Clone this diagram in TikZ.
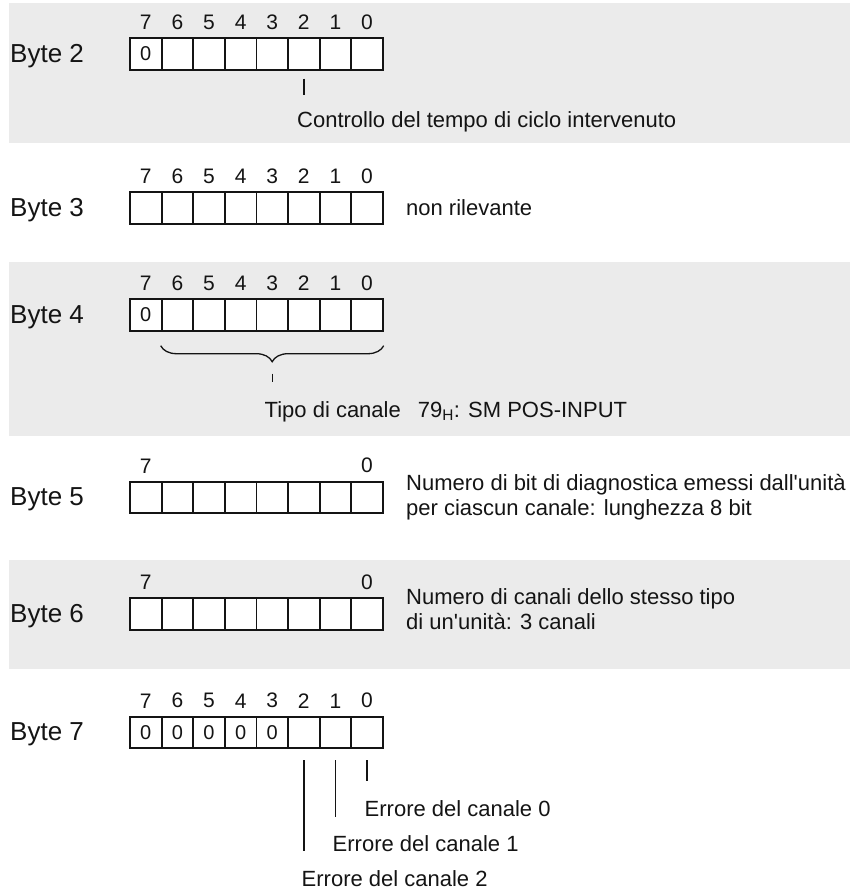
\documentclass[tikz,border=0pt]{standalone}
\usepackage{fontspec}
\setmainfont{Liberation Sans}
\usetikzlibrary{positioning,decorations.pathreplacing}
\definecolor{bandgray}{RGB}{235,235,235}
\definecolor{ink}{RGB}{20,20,20}

\tikzset{
  bitcell/.style={draw=ink, fill=white, line width=1.8pt, minimum width=31.6pt, minimum height=31.6pt, inner sep=0pt, font=\fontsize{20}{20}\selectfont},
  bitno/.style={inner sep=0pt, font=\fontsize{21}{21}\selectfont},
  bytename/.style={anchor=base west, inner sep=0pt, font=\fontsize{26}{28}\selectfont},
  note/.style={anchor=base west, inner sep=0pt, font=\fontsize{22}{25}\selectfont},
  tick/.style={draw=ink, line width=1.7pt}
}

\begin{document}
\begin{tikzpicture}[x=1pt, y=-1pt, text=ink]
  \useasboundingbox (0,0) rectangle (850,889);
  % shaded rows
  \fill[bandgray] (9,3) rectangle (850,143);
  \fill[bandgray] (9,262) rectangle (850,436);
  \fill[bandgray] (9,560) rectangle (850,669);

  % rows: byte / centre y / leading zeros / bit numbers shown
  \foreach \n/\y/\z/\bits in {2/54/1/{0,...,7}, 3/208/0/{0,...,7}, 4/315/1/{0,...,7}, 5/497.5/0/{0,7}, 6/614/0/{0,7}, 7/732.5/5/{0,...,7}} {
    \node[bytename] (byte\n) at (10,\y+8) {Byte \n};
    \foreach \b in {0,...,7}
      \node[bitcell] (c\n-\b) at ({145.8+(7-\b)*31.6},\y) {\ifnum\b>\numexpr7-\z\relax 0\fi};
    \foreach \b in \bits
      \node[bitno, above=7.5pt of c\n-\b] (no\n-\b) {\b};
  }

  % byte 2
  \node[note] (d2) at (297,127) {Controllo del tempo di ciclo intervenuto};
  \draw[tick] ([yshift=-8pt]c2-2.south) -- ([yshift=16pt]d2.north -| c2-2.south);

  % byte 3
  \node[note] (d3) at (406,215) {non rilevante};

  % byte 4
  \draw[draw=ink, line width=1.3pt, decorate, decoration={brace, mirror, amplitude=16pt}]
    ([yshift=-14pt]c4-6.south west) -- ([yshift=-14pt]c4-0.south east);
  \node[note] (d4) at (264.5,417) {Tipo di canale\hspace{17pt}79\textsubscript{H}: SM POS-INPUT};
  \draw[tick, line width=1.4pt] ([yshift=-42pt]c4-3.south) -- ([yshift=19pt]d4.north -| c4-3.south);

  % byte 5 and 6 (base = last line)
  \node[note, align=left] (d5) at (406,515.7) {Numero di bit di diagnostica emessi dall\textquotesingle unità\\per ciascun canale: lunghezza 8 bit};
  \node[note, align=left] (d6) at (406,629.3) {Numero di canali dello stesso tipo\\di un\textquotesingle unità: 3 canali};

  % byte 7
  \node[note] (e0) at (364.5,816) {Errore del canale 0};
  \node[note] (e1) at (332.5,851.7) {Errore del canale 1};
  \node[note] (e2) at (301.5,886) {Errore del canale 2};
  \foreach \b in {0,1,2}
    \draw[tick] ([yshift=-11pt]c7-\b.south) -- ([yshift=19pt]e\b.north -| c7-\b.south);
\end{tikzpicture}
\end{document}
